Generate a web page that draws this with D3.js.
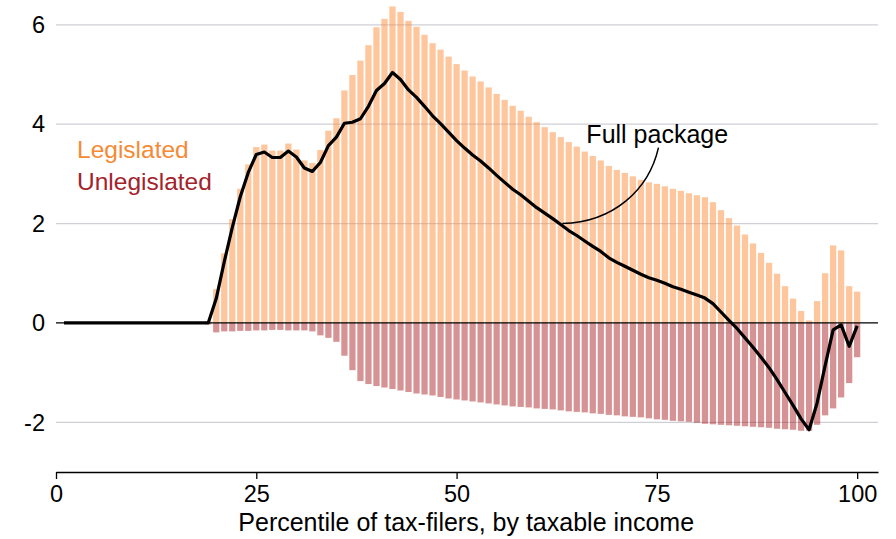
<!DOCTYPE html>
<html>
<head>
<meta charset="utf-8">
<script src="https://cdn.jsdelivr.net/npm/d3@7"></script>
<style>
  html, body { margin: 0; padding: 0; background: #fff; }
  svg { display: block; font-family: "Liberation Sans", Arial, Helvetica, sans-serif; }
</style>
</head>
<body>
<svg id="chart" width="896" height="539"></svg>
<script>
// Percentiles 1..100
const percentiles = d3.range(1, 101);

const legislated = [
  0,0,0,0,0,0,0,0,0,0,0,0,0,0,0,0,0,0,
  0.03,0.68,1.40,2.09,2.70,3.19,3.54,3.59,3.47,3.47,
  3.61,3.49,3.27,3.22,3.48,3.87,4.12,4.68,4.99,5.28,
  5.59,5.95,6.12,6.37,6.26,6.08,5.96,5.80,5.63,5.50,
  5.36,5.21,5.08,4.96,4.86,4.74,4.61,4.49,4.37,4.27,
  4.15,4.04,3.94,3.84,3.74,3.64,3.55,3.45,3.36,3.27,
  3.16,3.08,3.02,2.95,2.88,2.83,2.80,2.75,2.70,2.66,
  2.61,2.57,2.53,2.43,2.27,2.11,1.96,1.78,1.60,1.41,
  1.21,0.99,0.74,0.49,0.24,0.05,0.44,1.00,1.56,1.46,
  0.74,0.63
];

const unlegislated = [
  0,0,0,0,0,0,0,0,0,0,0,0,0,0,0,0,0,0,
  -0.03,-0.19,-0.17,-0.17,-0.16,-0.16,-0.15,-0.15,-0.14,-0.14,
  -0.15,-0.15,-0.15,-0.17,-0.25,-0.30,-0.38,-0.66,-0.95,-1.17,
  -1.23,-1.27,-1.30,-1.33,-1.36,-1.39,-1.42,-1.44,-1.46,-1.49,
  -1.52,-1.54,-1.56,-1.58,-1.60,-1.62,-1.64,-1.66,-1.68,-1.69,
  -1.70,-1.72,-1.73,-1.74,-1.76,-1.78,-1.79,-1.80,-1.82,-1.83,
  -1.85,-1.86,-1.88,-1.89,-1.90,-1.92,-1.94,-1.95,-1.97,-1.98,
  -1.99,-2.01,-2.03,-2.04,-2.05,-2.06,-2.07,-2.08,-2.09,-2.10,
  -2.11,-2.13,-2.14,-2.15,-2.17,-2.17,-2.05,-1.86,-1.72,-1.50,
  -1.21,-0.69
];

const fullPackage = [
  0,0,0,0,0,0,0,0,0,0,0,0,0,0,0,0,0,0,
  0,0.49,1.23,1.92,2.54,3.03,3.39,3.44,3.33,3.33,
  3.46,3.34,3.12,3.05,3.23,3.57,3.74,4.02,4.04,4.11,
  4.36,4.68,4.82,5.04,4.90,4.69,4.54,4.36,4.17,4.01,
  3.84,3.67,3.52,3.38,3.26,3.12,2.97,2.83,2.69,2.58,
  2.45,2.32,2.21,2.10,1.98,1.86,1.76,1.65,1.54,1.44,
  1.31,1.22,1.14,1.06,0.98,0.91,0.86,0.80,0.73,0.68,
  0.62,0.56,0.50,0.39,0.22,0.05,-0.11,-0.30,-0.49,-0.69,
  -0.90,-1.14,-1.40,-1.66,-1.93,-2.15,-1.61,-0.86,-0.14,-0.04,
  -0.47,-0.06
];

const xTicks = [0, 25, 50, 75, 100];
const yTicks = [-2, 0, 2, 4, 6];
const seriesNames = ["Legislated", "Unlegislated"];
const xTitle = "Percentile of tax-filers, by taxable income";
const annotationText = "Full package";

const colors = {
  legBar: "#fd8d3c", unlegBar: "#a50f15",
  legText: "#f58a35", unlegText: "#a3222b"
};

const svg = d3.select("#chart");
const x = d3.scaleLinear().domain([0, 102.6]).range([56, 878]);
const y = d3.scaleLinear().domain([-3, 6.5]).range([472, 0]);
const barW = (x(1) - x(0)) * 0.78;

// gridlines
svg.append("g").selectAll("line")
  .data(yTicks.filter(d => d !== 0))
  .join("line")
  .attr("x1", x(0)).attr("x2", x(102.6))
  .attr("y1", d => y(d)).attr("y2", d => y(d))
  .attr("stroke", "#cfcfd6").attr("stroke-width", 1.2);

// y tick labels
svg.append("g").selectAll("text")
  .data(yTicks)
  .join("text")
  .attr("x", 45).attr("y", d => y(d))
  .attr("dy", "0.35em")
  .attr("text-anchor", "end")
  .attr("font-size", 23.5)
  .attr("fill", "#000")
  .text(d => d);

const rows = percentiles.map((p, i) => ({ p, leg: legislated[i], unleg: unlegislated[i], full: fullPackage[i] }));

// bars
svg.append("g").selectAll("rect")
  .data(rows.filter(d => d.leg > 0))
  .join("rect")
  .attr("x", d => x(d.p) - barW / 2)
  .attr("width", barW)
  .attr("y", d => y(d.leg))
  .attr("height", d => y(0) - y(d.leg))
  .attr("fill", colors.legBar).attr("fill-opacity", 0.5);

svg.append("g").selectAll("rect")
  .data(rows.filter(d => d.unleg < 0))
  .join("rect")
  .attr("x", d => x(d.p) - barW / 2)
  .attr("width", barW)
  .attr("y", y(0))
  .attr("height", d => y(d.unleg) - y(0))
  .attr("fill", colors.unlegBar).attr("fill-opacity", 0.45);

// zero line
svg.append("line")
  .attr("x1", x(0)).attr("x2", x(102.6))
  .attr("y1", y(0)).attr("y2", y(0))
  .attr("stroke", "#000").attr("stroke-width", 1.3);

// full package line
svg.append("path")
  .datum(rows)
  .attr("fill", "none")
  .attr("stroke", "#000")
  .attr("stroke-width", 3.2)
  .attr("stroke-linejoin", "round")
  .attr("d", d3.line().x(d => x(d.p)).y(d => y(d.full)));

// x axis
const xAxis = svg.append("g")
  .attr("transform", `translate(0,${y(-3)})`)
  .call(d3.axisBottom(x).tickValues(xTicks).tickSize(7).tickSizeOuter(0).tickPadding(6));
xAxis.select(".domain").attr("stroke", "#000").attr("stroke-width", 1.3);
xAxis.selectAll(".tick line").attr("stroke", "#000").attr("stroke-width", 1.3);
xAxis.selectAll(".tick text")
  .attr("font-size", 23.5).attr("fill", "#000")
  .attr("font-family", '"Liberation Sans", Arial, sans-serif');

svg.append("text")
  .attr("x", x(51.2)).attr("y", 531)
  .attr("text-anchor", "middle")
  .attr("font-size", 25)
  .attr("fill", "#000")
  .text(xTitle);

// legend
svg.append("text").attr("x", 77).attr("y", 158)
  .attr("font-size", 24.5).attr("fill", colors.legText).text(seriesNames[0]);
svg.append("text").attr("x", 77).attr("y", 190)
  .attr("font-size", 24.5).attr("fill", colors.unlegText).text(seriesNames[1]);

// annotation
svg.append("text").attr("x", x(66.2)).attr("y", 143)
  .attr("font-size", 25).attr("fill", "#000").text(annotationText);

const a0 = [75.2, 3.53], a1 = [74.0, 2.68], a2 = [69.6, 2.03], a3 = [63.2, 2.0];
svg.append("path")
  .attr("fill", "none").attr("stroke", "#000").attr("stroke-width", 1.5)
  .attr("d", `M${x(a0[0])},${y(a0[1])} C${x(a1[0])},${y(a1[1])} ${x(a2[0])},${y(a2[1])} ${x(a3[0])},${y(a3[1])}`);
</script>
</body>
</html>
